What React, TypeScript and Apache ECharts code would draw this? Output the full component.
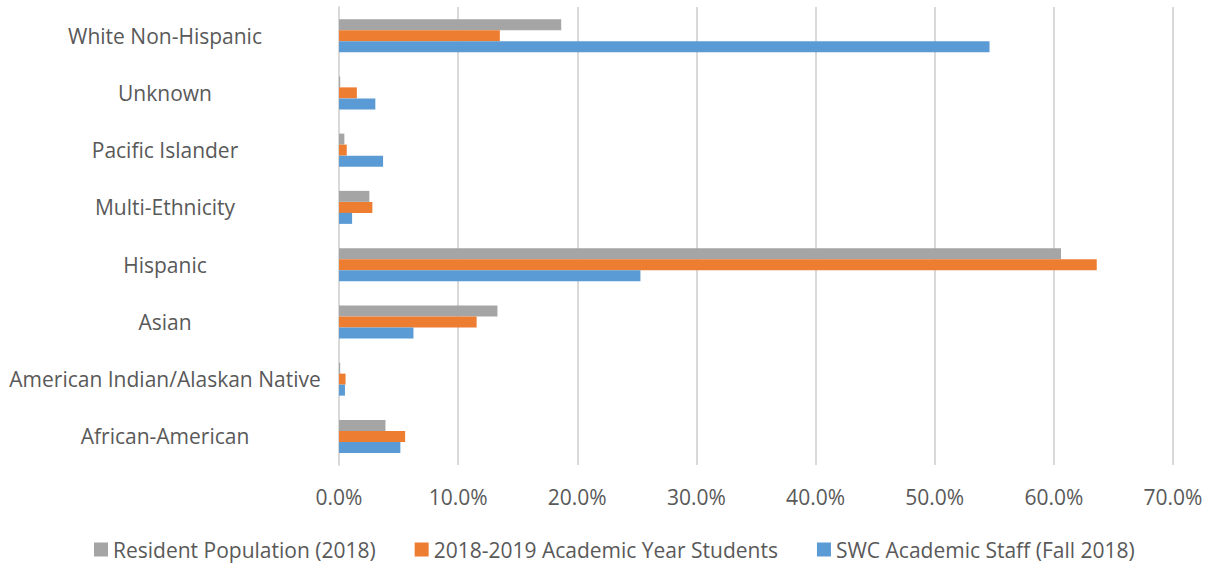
import React, { useEffect, useRef } from "react";
import * as echarts from "echarts";

const categories = [
  "African-American",
  "American Indian/Alaskan Native",
  "Asian",
  "Hispanic",
  "Multi-Ethnicity",
  "Pacific Islander",
  "Unknown",
  "White Non-Hispanic",
];

const residentPopulation = [3.9, 0.1, 13.3, 60.6, 2.55, 0.45, 0.1, 18.65];
const academicYearStudents = [5.55, 0.55, 11.55, 63.6, 2.8, 0.65, 1.5, 13.5];
const academicStaff = [5.15, 0.5, 6.25, 25.3, 1.1, 3.7, 3.05, 54.6];

const seriesNames = [
  "Resident Population (2018)",
  "2018-2019 Academic Year Students",
  "SWC Academic Staff (Fall 2018)",
];
const colors = ["#A5A5A5", "#ED7D31", "#5B9BD5"];

const FONT = "Open Sans";

export default function App() {
  const ref = useRef<HTMLDivElement>(null);
  useEffect(() => {
    document.body.style.margin = "0";
    if (!ref.current) return;
    const chart = echarts.init(ref.current, undefined, { renderer: "svg" });
    const data = [residentPopulation, academicYearStudents, academicStaff];
    chart.setOption({
      animation: false,
      textStyle: { fontFamily: FONT },
      grid: { left: 339, right: 37, top: 7, bottom: 100 },
      legend: {
        top: 539,
        left: 94,
        padding: 0,
        itemWidth: 14,
        itemHeight: 14,
        itemGap: 39,
        icon: "rect",
        textStyle: { fontFamily: FONT, fontSize: 21, color: "#595959" },
        data: seriesNames,
      },
      xAxis: {
        type: "value",
        min: 0,
        max: 70,
        interval: 10,
        axisLine: { show: false },
        axisTick: { show: false },
        splitLine: { lineStyle: { color: "#D9D9D9", width: 2 } },
        axisLabel: {
          margin: 21,
          fontFamily: FONT,
          fontSize: 21,
          color: "#595959",
          formatter: (v: number) => v.toFixed(1) + "%",
        },
      },
      yAxis: {
        type: "category",
        data: categories,
        axisLine: { show: true, lineStyle: { color: "#D9D9D9", width: 2 } },
        axisTick: { show: false },
        axisLabel: {
          margin: 174,
          align: "center",
          fontFamily: FONT,
          fontSize: 21,
          color: "#595959",
        },
      },
      series: seriesNames.map((name, i) => ({
        name,
        type: "bar",
        data: data[i],
        barWidth: 11,
        barGap: "0%",
        itemStyle: { color: colors[i] },
      })),
    });
    return () => chart.dispose();
  }, []);
  return <div ref={ref} style={{ width: 1210, height: 565 }} />;
}
